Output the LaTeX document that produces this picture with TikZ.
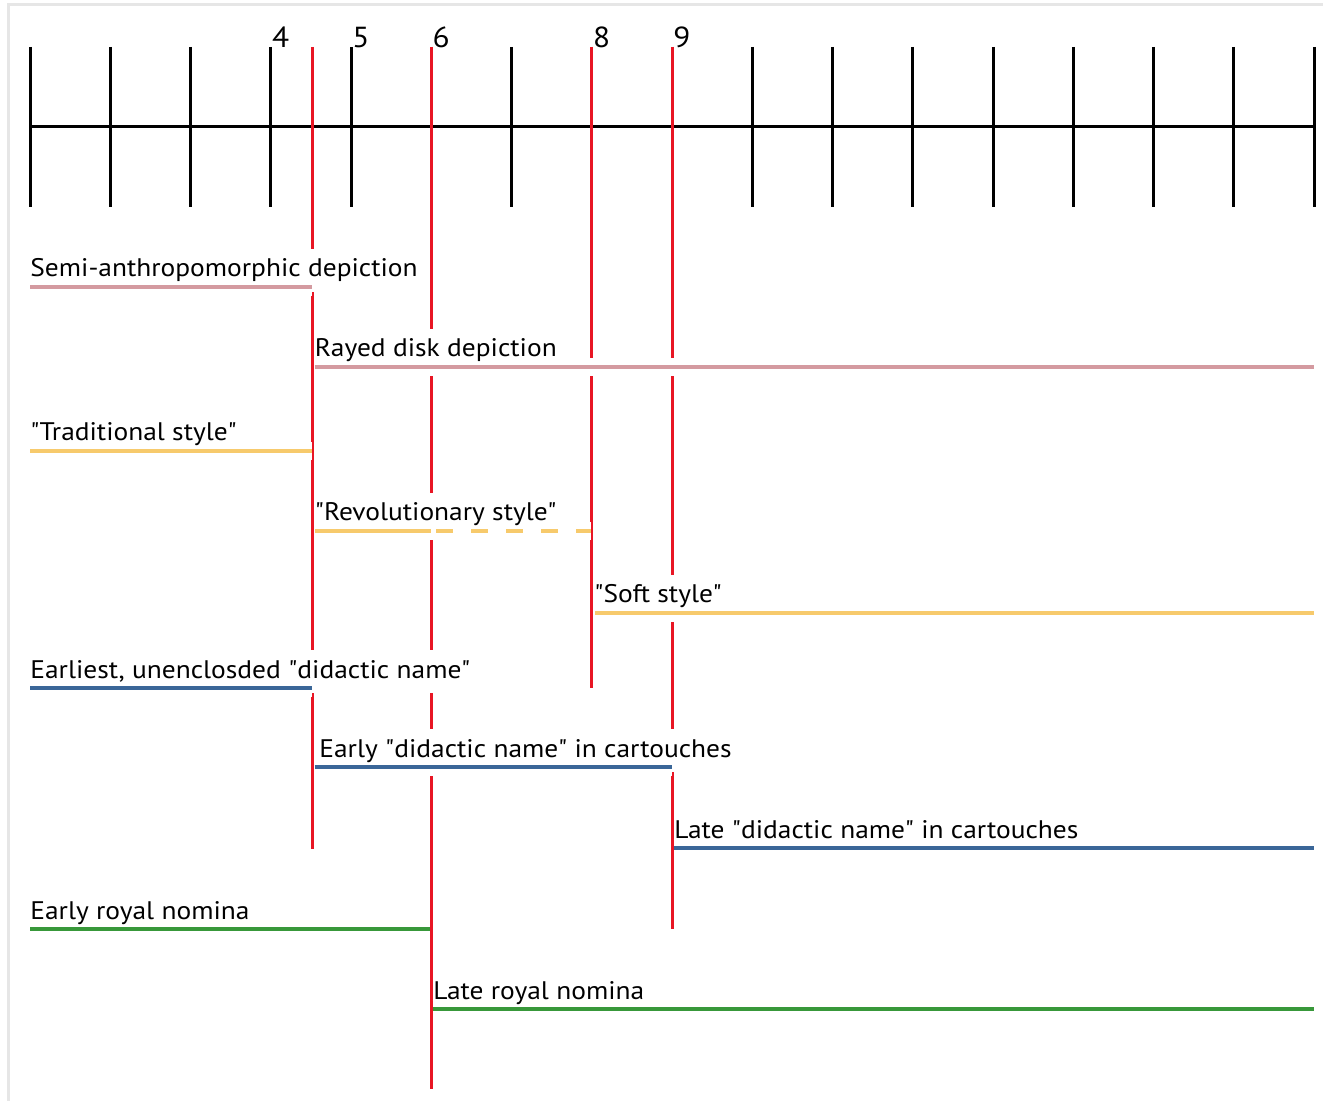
\documentclass[tikz,border=0pt]{standalone}
\usepackage{fontspec}
\setmainfont{PT Sans}[Ligatures=TeXOff,FakeStretch=1.08]
\definecolor{diskpink}{RGB}{212,154,160}
\definecolor{styleyellow}{RGB}{247,202,108}
\definecolor{nameblue}{RGB}{58,102,152}
\definecolor{nomengreen}{RGB}{56,152,58}
\definecolor{reignred}{RGB}{232,22,36}
\definecolor{framegray}{RGB}{230,230,230}
\tikzset{
    halo/.style={draw=white,line width=9pt},
    bar/.style={line width=2pt},
    phase label/.style={anchor=base west,fill=white,inner xsep=0pt,inner ysep=5pt,
        text height=9pt,text depth=2.5pt,font=\fontsize{12.7}{14}\selectfont},
    year label/.style={anchor=base west,inner sep=0pt,font=\fontsize{14.5}{16}\selectfont},
    reign/.style={draw=reignred,line width=1.5pt},
    tick/.style={line width=1.5pt},
}
% #1 name, #2 y, #3 start, #4 end, #5 colour, #6 text x, #7 text
\newcommand\PhaseBar[7]{%
    \draw[halo] (#3,#2) -- (#4,#2);
    \node[phase label] (#1) at (#6,#2-10) {#7};
    \draw[bar,color=#5] (#3,#2) coordinate (#1-a) -- (#4,#2) coordinate (#1-b);
}

\begin{document}
\begin{tikzpicture}[x=0.5pt,y=-0.5pt]
    \useasboundingbox (0,0) rectangle (1323,1101);
    \draw[framegray,line width=1.5pt] (8,1101) -- (8,5) -- (1323,5);
    % year axis
    \draw[tick] (30,127) coordinate (AxisStart) -- (1314,127) coordinate (AxisEnd);
    \foreach \i in {0,...,16}
        \draw[tick] (30+80.25*\i,47) -- (30+80.25*\i,207);
    \foreach \i/\yr in {3/4,4/5,5/6,7/8,8/9}
        \node[year label] (y\yr) at (31+80.25*\i,48) {\yr};
    % reign marks
    \foreach \x/\bot/\nm in {312.5/849/r45,431.25/1089/r6,591.75/688/r8,672/929/r9}
        \draw[reign] (\x,47) coordinate (\nm-top) -- (\x,\bot) coordinate (\nm-end);
    % sun disk
    \PhaseBar{semi}{287}{30}{311.5}{diskpink}{30}{Semi-anthropomorphic depiction}
    \PhaseBar{rayed}{367}{314.5}{1314}{diskpink}{314.5}{Rayed disk depiction}
    % style
    \PhaseBar{trad}{451}{30}{311.5}{styleyellow}{30}{"Traditional style"}
    \draw[halo] (314.5,531) -- (590.5,531);
    \node[phase label] (revol) at (314.5,521) {"Revolutionary style"};
    \draw[bar,styleyellow] (314.5,531) coordinate (revol-a) -- (431,531) coordinate (revol-m);
    \draw[bar,styleyellow,dash pattern=on 8.5pt off 9pt] (436,531) -- (590.5,531) coordinate (revol-b);
    \PhaseBar{soft}{613}{595}{1314}{styleyellow}{594}{"Soft style"}
    % didactic name
    \PhaseBar{earliest}{688}{30}{311.5}{nameblue}{30}{Earliest, unenclosded "didactic name"}
    \PhaseBar{earlycart}{767}{314.5}{672}{nameblue}{319}{Early "didactic name" in cartouches}
    \PhaseBar{latecart}{848}{673.5}{1314}{nameblue}{674}{Late "didactic name" in cartouches}
    % royal nomina
    \PhaseBar{earlyroyal}{929}{30}{429.5}{nomengreen}{30}{Early royal nomina}
    \PhaseBar{lateroyal}{1009}{432.5}{1314}{nomengreen}{433}{Late royal nomina}
\end{tikzpicture}
\end{document}
